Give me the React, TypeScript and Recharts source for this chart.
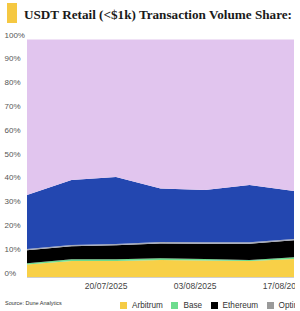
import { AreaChart, Area, XAxis, YAxis } from "recharts";

// === Chart data (share of USDT retail volume, %) ===
const weeks = [
  "2025-07-07",
  "2025-07-14",
  "2025-07-21",
  "2025-07-28",
  "2025-08-04",
  "2025-08-11",
  "2025-08-18",
];
const dateTicks = ["2025-07-20", "2025-08-03", "2025-08-17"];
const yTicks = [0, 10, 20, 30, 40, 50, 60, 70, 80, 90, 100];

const arbitrum = [5.5, 6.9, 6.9, 7.4, 7.1, 6.9, 7.8];
const base = [0.5, 0.8, 0.8, 0.7, 0.7, 0.5, 0.7];
const ethereum = [5.4, 5.4, 5.8, 6.2, 6.4, 6.8, 7.1];
const optimism = [0.6, 0.6, 0.6, 0.6, 0.6, 0.6, 0.6];
const polygon = [22.7, 27.3, 28.1, 22.5, 22.0, 24.1, 20.1];
const tron = [65.3, 59.0, 57.8, 62.6, 63.2, 61.1, 63.7];

const seriesNames = ["Arbitrum", "Base", "Ethereum", "Optimism", "Polygon", "Tron"];
const seriesValues = [arbitrum, base, ethereum, optimism, polygon, tron];
const seriesColors = ["#F8D047", "#6DDC8E", "#000000", "#A4A9B8", "#2347B0", "#E1C5EE"];
const legendColors = ["#F5CB45", "#6DDC8E", "#000000", "#9A9A9A", "#2347B0", "#E1C5EE"];

const toTs = (d: string) => Date.parse(d + "T00:00:00Z");

const rows = weeks.map((w, i) => {
  const row: Record<string, number> = { ts: toTs(w) };
  seriesNames.forEach((name, s) => {
    row[name] = seriesValues[s][i];
  });
  return row;
});

const formatDate = (ts: number) => {
  const d = new Date(ts);
  const dd = String(d.getUTCDate()).padStart(2, "0");
  const mm = String(d.getUTCMonth() + 1).padStart(2, "0");
  return `${dd}/${mm}/${d.getUTCFullYear()}`;
};

const sans = '"Liberation Sans", Arial, sans-serif';

const YTick = (props: any) => {
  const { y, payload } = props;
  return (
    <text x={4.5} y={y - 2} fontSize={8} fill="#555" fontFamily={sans} textAnchor="start">
      {payload.value}%
    </text>
  );
};

const XTick = (props: any) => {
  const { x, y, payload } = props;
  return (
    <text x={x - 3.5} y={y + 11.5} fontSize={8.5} fill="#444" fontFamily={sans} textAnchor="middle">
      {formatDate(payload.value)}
    </text>
  );
};

export default function App() {
  return (
    <div
      style={{
        position: "absolute",
        left: 0,
        top: 0,
        width: 295,
        height: 311,
        overflow: "hidden",
        background: "#fff",
      }}
    >
      {/* === Title === */}
      <svg width={300} height={30} style={{ position: "absolute", left: 0, top: 0 }}>
        <rect x={7} y={3} width={10} height={20} fill="#F5C842" />
        <text
          x={24}
          y={18.5}
          fontSize={13}
          fontWeight="bold"
          fontFamily='"Liberation Serif", "DejaVu Serif", serif'
          fill="#1a1a1a"
          textLength={268}
          lengthAdjust="spacingAndGlyphs"
        >
          USDT Retail (&lt;$1k) Transaction Volume Share:
        </text>
      </svg>

      {/* === Stacked area chart === */}
      <div style={{ position: "absolute", left: 0, top: 0 }}>
        <AreaChart
          width={340}
          height={300}
          data={rows}
          margin={{ top: 39.5, right: 46, bottom: 0, left: 0 }}
        >
          <XAxis
            dataKey="ts"
            type="number"
            scale="linear"
            domain={["dataMin", "dataMax"]}
            ticks={dateTicks.map(toTs)}
            tick={<XTick />}
            tickLine={false}
            tickSize={0}
            tickMargin={0}
            height={22.5}
            axisLine={{ stroke: "#cfcfcf" }}
            interval={0}
          />
          <YAxis
            type="number"
            domain={[0, 100]}
            ticks={yTicks}
            tick={<YTick />}
            tickLine={false}
            axisLine={false}
            width={27}
            interval={0}
          />
          {seriesNames.map((name, s) => (
            <Area
              key={name}
              type="linear"
              dataKey={name}
              stackId="1"
              stroke="none"
              fill={seriesColors[s]}
              fillOpacity={1}
              isAnimationActive={false}
            />
          ))}
        </AreaChart>
      </div>

      {/* === Source + legend === */}
      <div
        style={{
          position: "absolute",
          left: 5,
          top: 300,
          fontSize: 5.5,
          fontFamily: sans,
          color: "#333",
        }}
      >
        Source: Dune Analytics
      </div>
      <div
        style={{
          position: "absolute",
          left: 120,
          top: 301.5,
          display: "flex",
          alignItems: "center",
          whiteSpace: "nowrap",
          fontFamily: sans,
          fontSize: 8.2,
          color: "#333",
          lineHeight: "8px",
        }}
      >
        {seriesNames.map((name, s) => (
          <div key={name} style={{ display: "flex", alignItems: "center", marginRight: 8.5 }}>
            <span
              style={{
                display: "inline-block",
                width: 7,
                height: 7,
                background: legendColors[s],
                marginRight: 5,
              }}
            />
            <span>{name}</span>
          </div>
        ))}
      </div>
    </div>
  );
}
